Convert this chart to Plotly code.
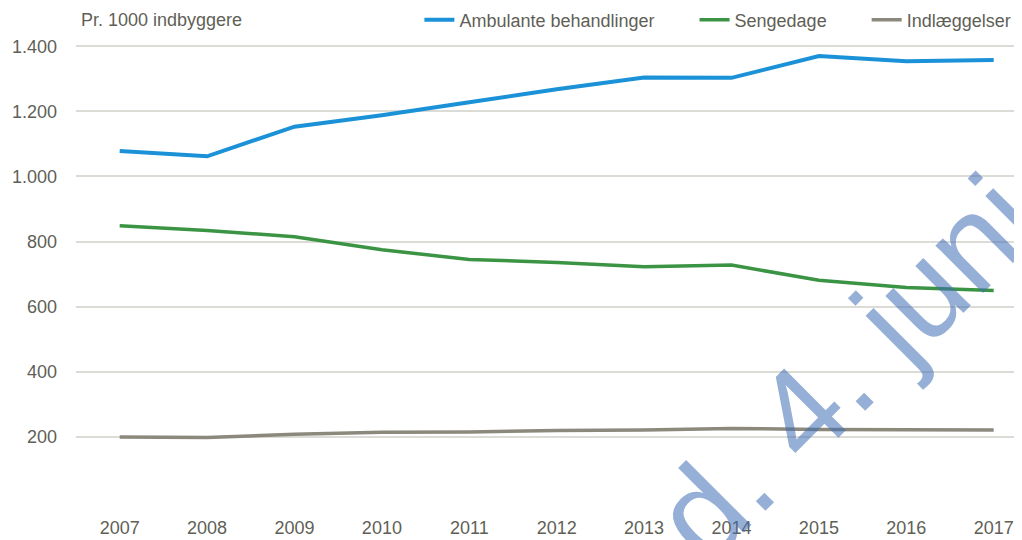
import plotly.graph_objects as go

# pr. 1000 indbyggere
YEARS = [2007, 2008, 2009, 2010, 2011, 2012, 2013, 2014, 2015, 2016, 2017]
AMBULANTE = [1078, 1062, 1153, 1188, 1228, 1268, 1304, 1303, 1370, 1354, 1358]
SENGEDAGE = [849, 834, 815, 775, 745, 736, 723, 728, 681, 659, 650]
INDLAEGGELSER = [200, 198, 208, 214, 215, 220, 221, 226, 223, 221, 221]

Y_TICKS = [0, 200, 400, 600, 800, 1000, 1200, 1400]
Y_LABELS = ["", "200", "400", "600", "800", "1.000", "1.200", "1.400"]

# trailing nbsp widens the gap between legend entries like the original
PAD = "\u00a0" * 7
SERIES = [
    ("Ambulante behandlinger" + PAD, AMBULANTE, "#1b92d8", 4),
    ("Sengedage" + PAD, SENGEDAGE, "#3b9444", 3.5),
    ("Indlæggelser", INDLAEGGELSER, "#8b887c", 3.5),
]

TEXT = "#5f5f57"
GRID = "#dcdcd6"
FONT = "Liberation Sans, Arial, sans-serif"

fig = go.Figure()
for name, vals, color, width in SERIES:
    fig.add_trace(go.Scatter(
        x=YEARS, y=vals, mode="lines", name=name,
        line=dict(color=color, width=width),
        hovertemplate="%{x}: %{y}<extra>" + name.strip() + "</extra>",
    ))

fig.update_xaxes(
    range=[2006.5, 2017.324], tickvals=YEARS, showgrid=False, zeroline=False,
    showline=False, ticks="", ticklabelstandoff=12,
    tickfont=dict(size=18, color=TEXT),
)
fig.update_yaxes(
    range=[-3, 1450], tickvals=Y_TICKS, ticktext=Y_LABELS, showgrid=True,
    gridcolor=GRID, gridwidth=1.5, zeroline=False, showline=False, ticks="",
    ticklabelstandoff=18, tickfont=dict(size=18, color=TEXT),
)

fig.add_annotation(
    text="Pr. 1000 indbyggere", xref="paper", yref="paper", x=0.003, y=1.021,
    xanchor="left", yanchor="middle", showarrow=False,
    font=dict(size=18, color=TEXT),
)

# watermark across the lower right
fig.add_annotation(
    text="d. 4. juni", xref="paper", yref="paper", x=0.814, y=0.285,
    xanchor="center", yanchor="middle", showarrow=False, textangle=-45,
    font=dict(size=127, color="rgba(64,110,180,0.55)", family=FONT),
)

# page body has an 8px margin, so margins are trimmed by 8 on left/top
fig.update_layout(
    width=1022, height=540,
    margin=dict(l=68, r=8, t=22, b=45, autoexpand=False),
    paper_bgcolor="white", plot_bgcolor="white",
    font=dict(family=FONT, size=18, color=TEXT),
    showlegend=True,
    legend=dict(
        orientation="h", x=0.363, xanchor="left", y=1.021, yanchor="middle",
        font=dict(size=18, color=TEXT), bgcolor="rgba(0,0,0,0)",
        itemwidth=30, tracegroupgap=0,
    ),
)

fig.write_html("out.html")
